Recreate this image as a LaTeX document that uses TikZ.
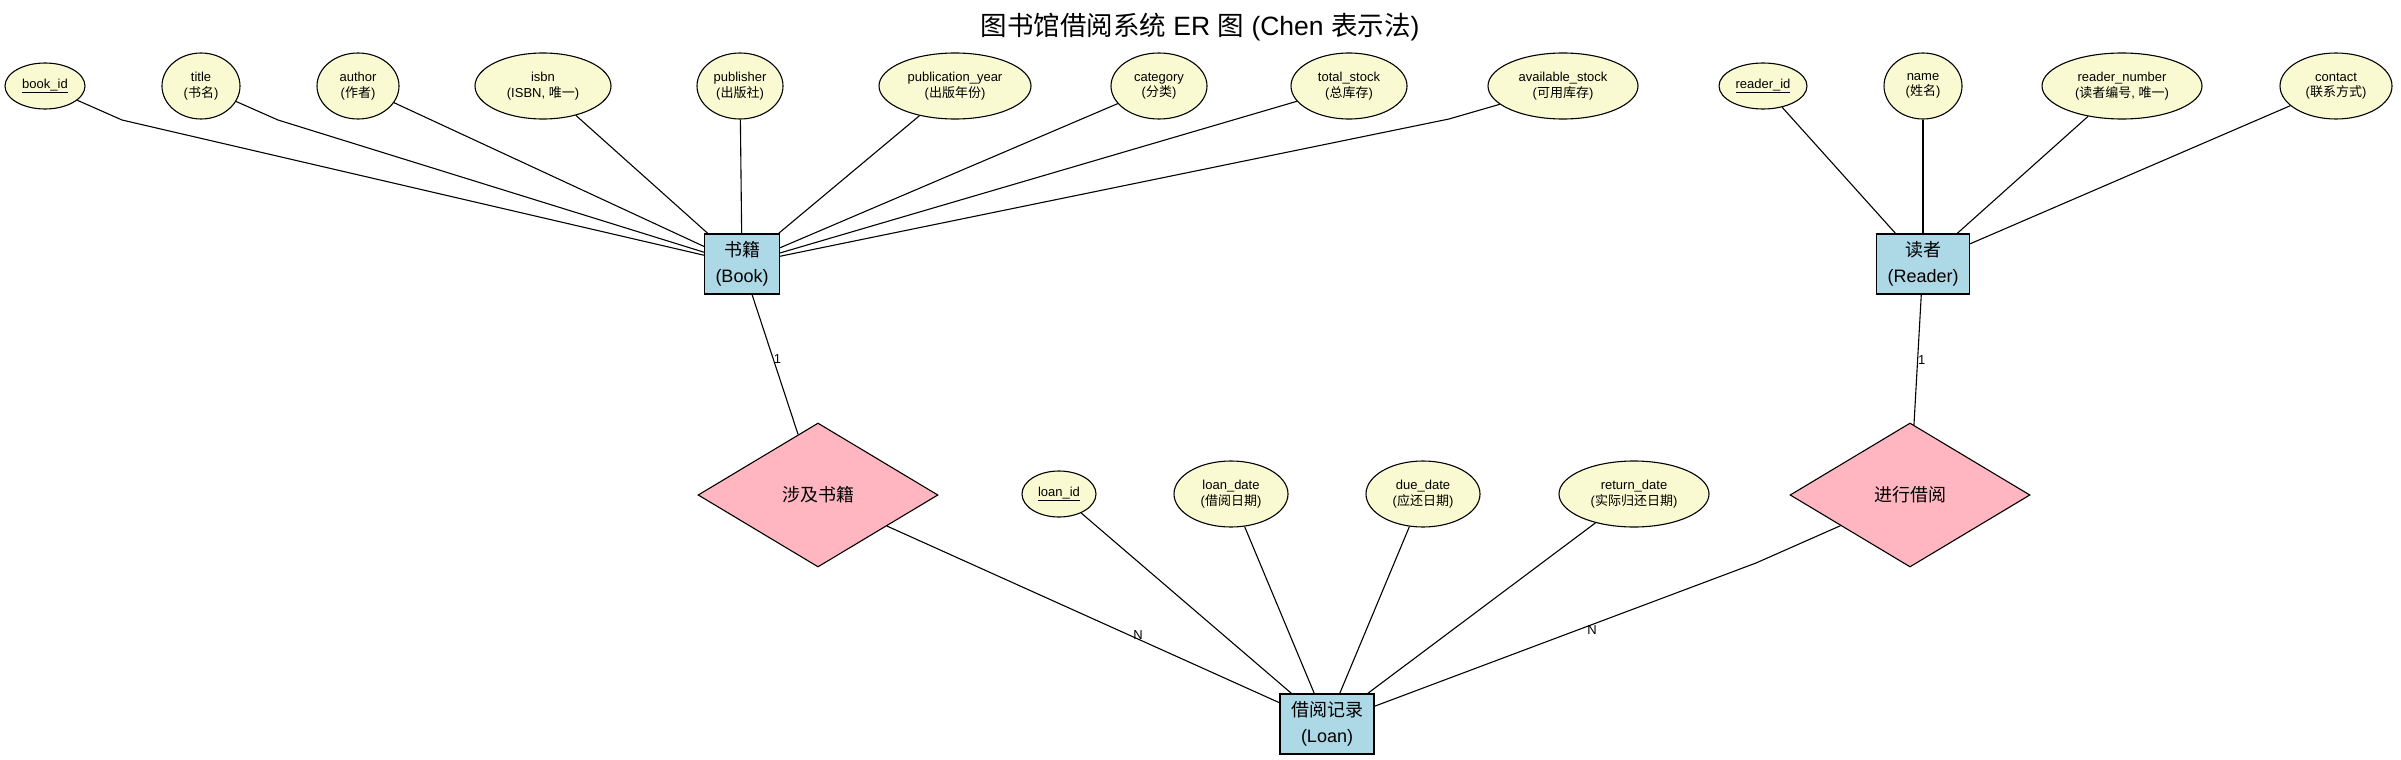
\documentclass[tikz,border=0pt]{standalone}
\usepackage{fontspec}
\setmainfont{Liberation Sans}
\newfontfamily\zhfont{Noto Sans CJK SC}
\newcommand{\zh}[1]{{\zhfont #1}}
\usetikzlibrary{shapes.geometric}
\definecolor{attrfill}{HTML}{FAFAD2}
\definecolor{entfill}{HTML}{ADD8E6}
\definecolor{relfill}{HTML}{FFB6C1}
\tikzset{
  attr/.style={ellipse, draw, fill=attrfill, line width=1.1pt, inner sep=0pt,
    minimum height=66pt, align=center, font=\fontsize{13}{15.5}\selectfont},
  keyattr/.style={attr, minimum height=46pt},
  entity/.style={rectangle, draw, fill=entfill, line width=1.1pt, inner xsep=11pt,
    inner ysep=0pt, minimum height=60pt, align=center, font=\fontsize{18}{26}\selectfont},
  rel/.style={diamond, draw, fill=relfill, line width=1.1pt, inner sep=0pt,
    minimum width=240pt, minimum height=144pt, aspect=1.667, font=\fontsize{18}{22}\selectfont},
  link/.style={line width=1.1pt},
  card/.style={font=\fontsize{13}{15}\selectfont, inner sep=0pt}
}
\begin{document}
\begin{tikzpicture}[x=1pt, y=-1pt]
\useasboundingbox (0,0) rectangle (2401,760);
\node[font=\fontsize{26.5}{30}\selectfont] (title) at (1200,27) {\zh{图书馆借阅系统} ER \zh{图} (Chen \zh{表示法})};

% entities
\node[entity] (book) at (742,264) {\zh{书籍}\\(Book)};
\node[entity] (reader) at (1923,264) {\zh{读者}\\(Reader)};
\node[entity] (loan) at (1327,724) {\zh{借阅记录}\\(Loan)};

% relationships
\node[rel] (rel1) at (818,495) {\zh{涉及书籍}};
\node[rel] (rel2) at (1910,495) {\zh{进行借阅}};

% book attributes
\node[keyattr, minimum width=80pt] (bookid) at (45,86) {\underline{book\_id}};
\node[attr, minimum width=78pt] (btitle) at (201,86) {title\\(\zh{书名})};
\node[attr, minimum width=82pt] (author) at (358,86) {author\\(\zh{作者})};
\node[attr, minimum width=136pt] (isbn) at (543,86) {isbn\\(ISBN, \zh{唯一})};
\node[attr, minimum width=86pt] (publisher) at (740,86) {publisher\\(\zh{出版社})};
\node[attr, minimum width=152pt] (pubyear) at (955,86) {publication\_year\\(\zh{出版年份})};
\node[attr, minimum width=96pt] (category) at (1159,86) {category\\(\zh{分类})};
\node[attr, minimum width=116pt] (total) at (1349,86) {total\_stock\\(\zh{总库存})};
\node[attr, minimum width=150pt] (avail) at (1563,86) {available\_stock\\(\zh{可用库存})};

% reader attributes
\node[keyattr, minimum width=88pt] (readerid) at (1763,86) {\underline{reader\_id}};
\node[attr, minimum width=78pt] (rname) at (1923,86) {name\\(\zh{姓名})};
\node[attr, minimum width=160pt] (rnumber) at (2122,86) {reader\_number\\(\zh{读者编号}, \zh{唯一})};
\node[attr, minimum width=112pt] (contact) at (2336,86) {contact\\(\zh{联系方式})};

% loan attributes
\node[keyattr, minimum width=74pt] (loanid) at (1059,494) {\underline{loan\_id}};
\node[attr, minimum width=114pt] (loandate) at (1231,494) {loan\_date\\(\zh{借阅日期})};
\node[attr, minimum width=114pt] (duedate) at (1423,494) {due\_date\\(\zh{应还日期})};
\node[attr, minimum width=150pt] (retdate) at (1634,494) {return\_date\\(\zh{实际归还日期})};

% bend points
\coordinate (kb1) at (122,120);
\coordinate (kb2) at (278,120);
\coordinate (kb3) at (1449,119);
\coordinate (kb4) at (1756,563);

% attribute links
\draw[link] (bookid) -- (kb1) -- (book);
\draw[link] (btitle) -- (kb2) -- (book);
\draw[link] (author) -- (book);
\draw[link] (isbn) -- (book);
\draw[link] (publisher) -- (book);
\draw[link] (pubyear) -- (book);
\draw[link] (category) -- (book);
\draw[link] (total) -- (book);
\draw[link] (avail) -- (kb3) -- (book);

\draw[link] (readerid) -- (reader);
\draw[link] (rname) -- (reader);
\draw[link] (rnumber) -- (reader);
\draw[link] (contact) -- (reader);

\draw[link] (loanid) -- (loan);
\draw[link] (loandate) -- (loan);
\draw[link] (duedate) -- (loan);
\draw[link] (retdate) -- (loan);

% relationship links
\draw[link] (book) -- node[card, pos=0.46, anchor=west] (c1) {1} (rel1);
\draw[link] (reader) -- node[card, pos=0.5, anchor=west] (c2) {1} (rel2);
\draw[link] (rel1) -- node[card, pos=0.64, yshift=4pt] (c3) {N} (loan);
\draw[link] (rel2) -- (kb4) -- node[card, pos=0.43, yshift=-5pt] (c4) {N} (loan);
\end{tikzpicture}
\end{document}
